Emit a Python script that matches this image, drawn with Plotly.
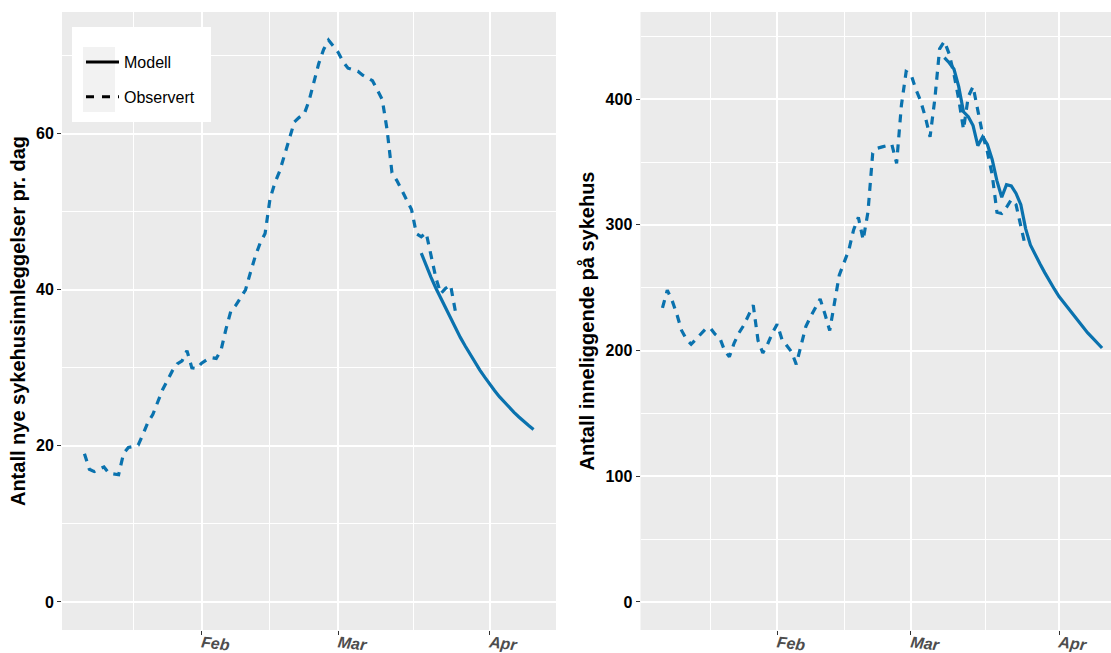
import pandas as pd
import plotly.graph_objects as go

# ---------------- data ----------------
obs_start = "2022-01-08"
model_new_start = "2022-03-18"
model_bed_start = "2022-03-08"

obs_new = [19.0, 17.0, 16.7, 17.0, 17.3, 16.5, 16.4, 16.3, 19.0, 19.8,
           19.9, 20.1, 21.5, 23.0, 24.0, 25.6, 27.2, 28.4, 29.6, 30.5,
           30.9, 32.2, 30.0, 29.9, 30.6, 31.0, 31.3, 31.2, 32.3, 35.0,
           37.3, 38.0, 39.0, 40.0, 42.2, 44.3, 46.0, 47.2, 51.6, 53.7,
           55.2, 57.3, 59.6, 61.5, 62.1, 62.5, 64.2, 66.6, 69.0, 70.8,
           72.0, 71.2, 70.4, 69.2, 68.4, 68.2, 68.0, 67.5, 67.2, 66.8,
           65.6, 64.4, 60.5, 55.0, 54.0, 52.8, 51.4, 50.3, 47.2, 46.8,
           47.3, 44.4, 41.5, 39.5, 40.2, 40.6, 37.2]

model_new = [44.7, 43.1, 41.6, 40.2, 38.9, 37.6, 36.3, 35.1, 33.9, 32.8,
             31.7, 30.7, 29.7, 28.8, 27.9, 27.1, 26.3, 25.6, 24.9, 24.3,
             23.7, 23.1, 22.6, 22.1]

obs_bed = [234, 248, 240, 229, 216, 209, 205, 209, 213, 217,
           218, 213, 210, 200, 195, 206, 214, 220, 228, 236,
           208, 198, 205, 214, 221, 209, 204, 199, 189, 205,
           219, 227, 234, 241, 229, 216, 238, 260, 270, 280,
           296, 306, 288, 310, 357, 361, 362, 363, 364, 349,
           395, 422, 420, 408, 399, 386, 370, 400, 440, 446,
           436, 420, 400, 376, 402, 410, 390, 372, 358, 340,
           310, 309, 314, 320, 316, 298, 282]

model_bed = [433, 429, 424, 410, 390, 386, 379, 363, 370, 364,
             352, 335, 322, 332, 331, 325, 316, 297, 284, 276,
             269, 262, 255, 249, 243, 238, 233, 228, 223, 218,
             214, 210, 206, 202]

month_ticks = ["2022-02-01", "2022-03-01", "2022-04-01"]
month_labels = ["Feb", "Mar", "Apr"]
minor_x = ["2022-01-18", "2022-02-15", "2022-03-16 12:00"]

legend_names = ["Modell", "Observert"]
ytitle_left = "Antall nye sykehusinnleggelser pr. dag"
ytitle_right = "Antall inneliggende på sykehus"

# ---------------- build ----------------
def days(start, n):
    return pd.date_range(start, periods=n, freq="D")

BLUE = "#0A72AE"
FONT = "Liberation Sans, Arial, sans-serif"
W, H = 1111, 653

fig = go.Figure()

dash = "8px,7px"
fig.add_trace(go.Scatter(x=days(obs_start, len(obs_new)), y=obs_new, mode="lines",
                         line=dict(color=BLUE, width=3.2, dash=dash),
                         showlegend=False, xaxis="x", yaxis="y"))
fig.add_trace(go.Scatter(x=days(model_new_start, len(model_new)), y=model_new, mode="lines",
                         line=dict(color=BLUE, width=3.2),
                         showlegend=False, xaxis="x", yaxis="y"))
fig.add_trace(go.Scatter(x=days(obs_start, len(obs_bed)), y=obs_bed, mode="lines",
                         line=dict(color=BLUE, width=3.2, dash=dash),
                         showlegend=False, xaxis="x2", yaxis="y2"))
fig.add_trace(go.Scatter(x=days(model_bed_start, len(model_bed)), y=model_bed, mode="lines",
                         line=dict(color=BLUE, width=3.2),
                         showlegend=False, xaxis="x2", yaxis="y2"))

# legend entries (black keys)
fig.add_trace(go.Scatter(x=[None], y=[None], mode="lines", name=legend_names[0],
                         line=dict(color="black", width=3), legendgroup="a",
                         xaxis="x", yaxis="y"))
fig.add_trace(go.Scatter(x=[None], y=[None], mode="lines", name=legend_names[1],
                         line=dict(color="black", width=3, dash="8px,8px"), legendgroup="b",
                         xaxis="x", yaxis="y"))

t0 = pd.Timestamp("2022-01-01")
left_range = [t0 + pd.Timedelta(days=2.4), t0 + pd.Timedelta(days=103.6)]
right_range = [t0 + pd.Timedelta(days=2.4), t0 + pd.Timedelta(days=100.87)]

ydom = [23 / H, 641 / H]
xdom1 = [62 / W, 556 / W]
xdom2 = [640.5 / W, 1.0]

grid = dict(showgrid=True, gridcolor="white", gridwidth=2, zeroline=False, automargin=False,
            showline=False, ticks="outside", ticklen=4, tickwidth=1.2, tickcolor="#333333")

xcommon = dict(grid, tickvals=month_ticks, ticktext=month_labels, tickangle=7,
               ticklabelstandoff=-7,
               tickfont=dict(family=FONT, size=16, color="#4D4D4D", weight="bold", style="italic"),
               minor=dict(tickvals=minor_x, showgrid=True, gridcolor="white", gridwidth=1, ticklen=0))

ytickfont = dict(family=FONT, size=16, color="black", weight="bold")
ytitlefont = dict(family=FONT, size=20, color="black", weight="bold")

fig.update_layout(
    width=W, height=H,
    margin=dict(l=0, r=0, t=0, b=0, autoexpand=False),
    paper_bgcolor="white", plot_bgcolor="#EBEBEB",
    font=dict(family=FONT, color="black"),
    xaxis=dict(xcommon, domain=xdom1, range=left_range, anchor="y", type="date"),
    xaxis2=dict(xcommon, domain=xdom2, range=right_range, anchor="y2", type="date"),
    yaxis=dict(grid, domain=ydom, range=[-3.6, 75.6], anchor="x",
               tickvals=[0, 20, 40, 60], tickfont=ytickfont,
               minor=dict(tickvals=[10, 30, 50, 70], showgrid=True, gridcolor="white", gridwidth=1, ticklen=0),
               title=dict(text=ytitle_left, standoff=5, font=ytitlefont)),
    yaxis2=dict(grid, domain=ydom, range=[-22.35, 469.35], anchor="x2",
                tickvals=[0, 100, 200, 300, 400], tickfont=ytickfont,
                minor=dict(tickvals=[50, 150, 250, 350, 450], showgrid=True, gridcolor="white", gridwidth=1, ticklen=0),
                title=dict(text=ytitle_right, standoff=5, font=ytitlefont)),
    showlegend=True,
    legend=dict(x=81 / W, y=1 - 45 / H, xanchor="left", yanchor="top",
                bgcolor="rgba(0,0,0,0)", borderwidth=0,
                font=dict(family=FONT, size=16, color="black"),
                traceorder="grouped", tracegroupgap=11, itemwidth=33),
    shapes=[
        dict(type="rect", xref="paper", yref="paper", layer="above",
             x0=72 / W, x1=211 / W, y0=1 - 122 / H, y1=1 - 27 / H,
             fillcolor="white", line=dict(width=0)),
        dict(type="rect", xref="paper", yref="paper", layer="above",
             x0=83 / W, x1=115 / W, y0=1 - 112 / H, y1=1 - 47 / H,
             fillcolor="#F2F2F2", line=dict(width=0)),
    ],
)

fig.write_html("out.html")
